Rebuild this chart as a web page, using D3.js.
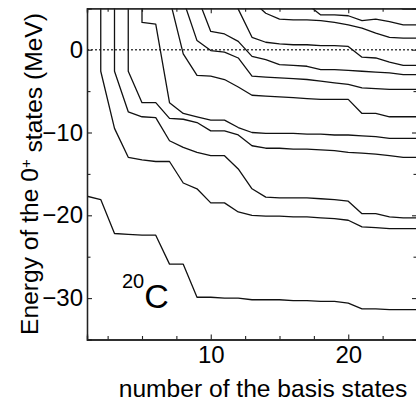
<!DOCTYPE html>
<html>

<head>
    <script src="https://d3js.org/d3.v7.min.js"></script>
    <title>20C 0+ states</title>
    <meta charset="UTF-8">
    <style type="text/css">
        body { margin: 0; background: #fff; }
        text { font-family: "Liberation Sans", Arial, sans-serif; fill: #000; }
    </style>
</head>

<body>
    <script type="text/javascript">
        // number of basis states (x)
        var basisStates = [1, 2, 3, 4, 5, 6, 7, 8, 9, 10, 11, 12, 13, 14, 15, 16, 17, 18, 19, 20, 21, 22, 23, 24, 25];

        // energies of the 0+ states (MeV), one array per level, null where the level does not exist / is not drawn
        var level1 = [-17.7, -18.1, -22.2, -22.3, -22.4, -22.4, -25.9, -25.9, -29.9, -29.9, -30.0, -30.0, -30.2, -30.2, -30.2, -30.3, -30.3, -30.4, -30.4, -30.6, -31.3, -31.3, -31.4, -31.4, -31.4];
        var level2 = [null, -2.6, -9.5, -13.0, -13.3, -13.5, -13.5, -16.1, -16.8, -18.5, -18.5, -19.6, -20.0, -20.1, -20.1, -20.2, -20.2, -20.3, -20.4, -20.6, -21.4, -21.5, -21.6, -21.6, -21.6];
        var level3 = [null, null, -2.6, -7.5, -8.1, -8.2, -11.0, -11.8, -12.4, -12.8, -12.8, -14.4, -16.8, -17.8, -17.9, -17.9, -17.9, -18.0, -18.1, -18.3, -19.8, -19.8, -20.2, -20.3, -20.3];
        var level4 = [null, null, null, -2.6, -6.4, -6.4, -8.3, -8.4, -8.8, -9.8, -9.8, -10.3, -11.6, -11.9, -11.9, -12.0, -12.0, -12.1, -12.2, -12.4, -12.5, -12.6, -12.8, -13.0, -13.0];
        var level5 = [null, null, null, null, 3.3, 3.1, -6.4, -7.7, -8.1, -8.5, -8.5, -9.4, -10.0, -10.1, -10.1, -10.1, -10.2, -10.2, -10.3, -10.3, -10.4, -10.5, -10.7, -10.7, -10.7];
        var level6 = [null, null, null, null, null, null, 6.2, -0.5, -3.1, -3.2, -3.6, -4.5, -5.5, -5.6, -5.7, -5.8, -5.9, -6.0, -6.0, -6.0, -7.7, -7.7, -8.1, -8.1, -8.1];
        var level7 = [null, null, null, null, null, null, null, 6.0, 1.1, -0.1, -0.3, -1.0, -3.2, -3.3, -3.4, -3.5, -3.6, -3.8, -4.0, -4.2, -4.6, -4.7, -4.8, -4.8, -4.8];
        var level8 = [null, null, null, null, null, null, null, null, 6.5, 2.2, 1.9, 1.0, -0.8, -1.2, -1.8, -1.9, -2.0, -2.4, -2.4, -2.5, -2.6, -2.7, -2.8, -3.0, -3.0];
        var level9 = [null, null, null, null, null, null, null, null, null, null, 10.0, 4.9, 1.5, 0.9, 0.7, 0.6, 0.6, 0.5, 0.5, 0.4, -0.9, -1.0, -1.5, -1.9, -1.9];
        var level10 = [null, null, null, null, null, null, null, null, null, null, null, null, 5.9, 4.4, 3.7, 3.6, 3.6, 3.5, 3.3, 3.0, 2.6, 2.0, 1.5, 1.4, 1.4];
        var level11 = [null, null, null, null, null, null, null, null, null, null, null, null, null, null, null, null, 5.5, 4.2, 4.2, 4.1, 3.5, 3.7, 3.4, 3.0, 3.0];
        var level12 = [null, null, null, null, null, null, null, null, null, null, null, null, null, null, null, null, null, null, null, null, null, null, 5.6, 4.9, 4.9];
        var levels = [level1, level2, level3, level4, level5, level6, level7, level8, level9, level10, level11, level12];

        // axes
        var xDomain = [1, 25], yDomain = [-35, 5];
        var xMajorTicks = [10, 20];
        var xMinorTicks = [2.5, 5, 7.5, 12.5, 15, 17.5, 22.5];
        var yMajorTicks = [0, -10, -20, -30];
        var yMinorTicks = [-5, -15, -25];
        var threshold = 0;

        var width = 416, height = 401;

        var x = d3.scaleLinear().domain(xDomain).range([87, 417]);
        var y = d3.scaleLinear().domain(yDomain).range([339.5, 8.3]);

        var svg = d3.select("body").append("svg")
            .attr("width", width)
            .attr("height", height);

        svg.append("defs").append("clipPath")
            .attr("id", "clip")
            .append("rect")
            .attr("x", x(xDomain[0]))
            .attr("y", y(yDomain[1]))
            .attr("width", x(xDomain[1]) - x(xDomain[0]))
            .attr("height", y(yDomain[0]) - y(yDomain[1]));

        var plot = svg.append("g").attr("clip-path", "url(#clip)");

        // dotted zero line
        plot.append("line")
            .attr("x1", x(xDomain[0])).attr("x2", x(xDomain[1]))
            .attr("y1", y(threshold)).attr("y2", y(threshold))
            .attr("stroke", "#444")
            .attr("stroke-width", 1.5)
            .attr("stroke-dasharray", "2,2");

        var line = d3.line()
            .defined(function (d) { return d[1] !== null; })
            .x(function (d) { return x(d[0]); })
            .y(function (d) { return y(d[1]); });

        levels.forEach(function (vals, i) {
            var pts = basisStates.map(function (n, j) { return [n, vals[j]]; })
                .filter(function (p) { return p[1] !== null; });
            // a new level comes in from above the frame
            if (i > 0 && pts[0][1] < yDomain[1]) {
                pts.unshift([pts[0][0], yDomain[1] + 1]);
            }
            plot.append("path")
                .attr("d", line(pts))
                .attr("fill", "none")
                .attr("stroke", "#111")
                .attr("stroke-width", 1.3)
                .attr("stroke-linejoin", "round");
        });

        // frame and ticks (inward, mirrored)
        var frame = svg.append("g").attr("class", "frame");

        function axisStyle(g) {
            g.select(".domain").attr("stroke", "#222").attr("stroke-width", 1.3);
            g.selectAll(".tick line").attr("stroke", "#222").attr("stroke-width", 1.1);
            g.selectAll("text").style("font-size", "24px").attr("fill", "#000")
                .style("font-family", "'Liberation Sans', Arial, sans-serif");
        }

        frame.append("g")
            .attr("transform", "translate(0," + y(yDomain[0]) + ")")
            .call(d3.axisBottom(x).tickValues(xMajorTicks).tickSize(-5).tickPadding(6).tickFormat(d3.format("d")))
            .call(axisStyle);
        frame.append("g")
            .attr("transform", "translate(0," + y(yDomain[0]) + ")")
            .call(d3.axisBottom(x).tickValues(xMinorTicks).tickSize(-3.5).tickFormat(""))
            .call(axisStyle);
        frame.append("g")
            .attr("transform", "translate(0," + y(yDomain[1]) + ")")
            .call(d3.axisTop(x).tickValues(xMajorTicks).tickSize(-5).tickFormat(""))
            .call(axisStyle);
        frame.append("g")
            .attr("transform", "translate(0," + y(yDomain[1]) + ")")
            .call(d3.axisTop(x).tickValues(xMinorTicks).tickSize(-3.5).tickFormat(""))
            .call(axisStyle);

        frame.append("g")
            .attr("transform", "translate(" + x(xDomain[0]) + ",0)")
            .call(d3.axisLeft(y).tickValues(yMajorTicks).tickSize(-5).tickPadding(4).tickFormat(d3.format("d")))
            .call(axisStyle);
        frame.append("g")
            .attr("transform", "translate(" + x(xDomain[0]) + ",0)")
            .call(d3.axisLeft(y).tickValues(yMinorTicks).tickSize(-3.5).tickFormat(""))
            .call(axisStyle);
        frame.append("g")
            .attr("transform", "translate(" + x(xDomain[1]) + ",0)")
            .call(d3.axisRight(y).tickValues(yMajorTicks).tickSize(-5).tickFormat(""))
            .call(axisStyle);
        frame.append("g")
            .attr("transform", "translate(" + x(xDomain[1]) + ",0)")
            .call(d3.axisRight(y).tickValues(yMinorTicks).tickSize(-3.5).tickFormat(""))
            .call(axisStyle);

        // axis titles
        svg.append("text")
            .attr("x", 263)
            .attr("y", 397)
            .attr("text-anchor", "middle")
            .style("font-size", "24.6px")
            .text("number of the basis states");

        var yTitle = svg.append("text")
            .attr("transform", "translate(38," + 174 + ") rotate(-90)")
            .attr("text-anchor", "middle")
            .style("font-size", "24.6px");
        yTitle.append("tspan").text("Energy of the 0");
        yTitle.append("tspan").attr("dy", "-0.45em").style("font-size", "15px").text("+");
        yTitle.append("tspan").attr("dy", "0.45em").text(" states (MeV)");

        // nucleus label
        var nucleus = svg.append("text")
            .attr("x", 122)
            .attr("y", 308);
        nucleus.append("tspan").attr("dy", "-20").style("font-size", "20px").text("20");
        nucleus.append("tspan").attr("dy", "20").style("font-size", "34px").text("C");
    </script>
</body>

</html>
